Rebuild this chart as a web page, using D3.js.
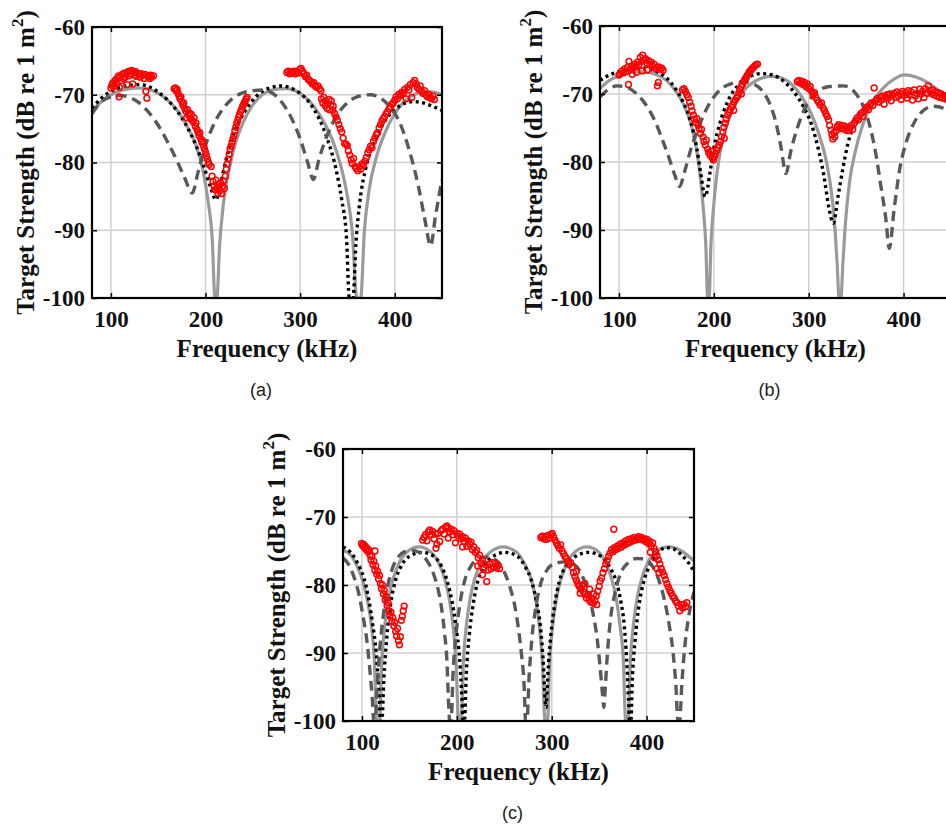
<!DOCTYPE html>
<html>
<head>
<meta charset="utf-8">
<script src="https://cdn.jsdelivr.net/npm/d3@7"></script>
<style>
    body { margin: 0; background: #fff; }
    .tick text { font-family: "Liberation Serif", "Times New Roman", serif; font-weight: bold; font-size: 23px; fill: #111; }
    .axtitle { font-family: "Liberation Serif", "Times New Roman", serif; font-weight: bold; font-size: 25px; fill: #111; }
    .plab { font-family: "Liberation Sans", Arial, sans-serif; font-size: 18px; fill: #222; }
</style>
</head>
<body>
<svg id="fig" width="946" height="826"></svg>
<script>
// axes
const freqDomain = [80, 450]
const tsDomain = [-100, -60]
const freqTicks = [100, 200, 300, 400]
const tsTicks = [-100, -90, -80, -70, -60]
const panelLabels = ["(a)", "(b)", "(c)"]

// ---- panel (a) ----
const grayA = [[80,-72.5],[90,-71],[100,-70],[110,-69.4],[120,-69.1],[130,-69],[140,-69.2],[150,-69.8],[160,-70.8],[170,-72.3],[180,-74.5],[190,-77.5],[197,-81],[203,-86],[207,-91],[210,-100],[212,-100],[215,-92],[219,-86],[225,-81],[232,-77],[240,-74],[250,-71.5],[260,-70],[270,-69.3],[285,-69.1],[295,-69.4],[305,-70.3],[315,-71.8],[325,-74],[335,-77],[343,-80.5],[350,-85],[355,-90],[360,-100],[364,-100],[368,-90],[373,-84],[380,-79.5],[390,-75.5],[400,-72.8],[410,-71],[420,-70],[430,-69.6],[440,-69.6],[450,-70]]
const dotA = [[80,-72],[90,-70.5],[100,-69.5],[110,-68.9],[120,-68.6],[130,-68.5],[140,-68.8],[150,-69.6],[160,-70.8],[170,-72.4],[180,-74.6],[190,-77.5],[198,-80.5],[205,-83.5],[211,-85.5],[216,-83],[222,-79.5],[230,-75.8],[240,-72.8],[250,-70.8],[260,-69.5],[270,-68.9],[280,-68.7],[290,-69],[300,-69.8],[310,-71.2],[320,-73.5],[330,-77],[338,-81],[344,-85.5],[349,-91],[352,-100],[356,-100],[359,-92],[363,-86],[370,-80.5],[380,-76.5],[390,-73.8],[400,-72.2],[410,-71.3],[420,-71],[430,-71.2],[440,-71.7],[450,-72.3]]
const dashA = [[80,-72.8],[90,-71],[100,-70.3],[110,-70.1],[120,-70.4],[130,-71.2],[140,-72.6],[150,-74.5],[160,-77],[170,-79.8],[178,-82.3],[186,-84.5],[192,-81.5],[200,-77.5],[210,-74],[220,-71.8],[230,-70.4],[240,-69.7],[250,-69.4],[261,-69.3],[270,-69.7],[280,-71],[290,-73.2],[300,-76.5],[308,-80],[314,-82.5],[320,-79.5],[330,-75.5],[340,-72.8],[350,-71.2],[360,-70.3],[374,-70],[385,-70.5],[395,-71.8],[405,-74],[415,-78],[425,-83.5],[432,-88.5],[438,-92.3],[443,-88],[450,-82.5]]
const redA = [
  [100,-69],[101,-68.6],[102,-68.3],[103,-68.8],[104,-68],[105,-67.8],[106,-68.4],[107,-67.5],[108,-67.2],[108.6,-70.3],[109,-68.9],[110,-67.4],[111,-67.9],[112,-67],[113,-67.6],[114,-66.8],[115,-67.4],[116,-66.9],[117,-68.5],[118,-66.6],[119,-67.2],[120,-66.5],[121,-66.9],[122,-66.4],[123,-68.4],[124,-66.7],[125,-67.1],[126,-66.6],[127,-67.3],[128,-66.8],[130,-67],[131,-67.4],[132,-66.9],[134,-67.1],[135,-67.6],[136,-67],[137,-69.5],[138,-70.5],[139,-67.3],[140,-67.2],[141,-67.6],[142,-67.1],[143,-67.4],[145,-67.2],
  [167,-69.1],[168,-69],[169,-69.4],[170,-69.2],[171,-69.8],[172,-70.2],[173,-70.6],[174,-70.3],[175,-71],[176,-71.5],[177,-71.2],[178,-72],[179,-72.4],[180,-73.4],[181,-72.2],[182,-73],[183,-72.7],[184,-73.5],[185,-72.9],[186,-73.8],[187,-74],[188,-73.4],[189,-74.6],[190,-74.2],[191,-75.1],[192,-75.5],[193,-76],[194,-75.6],[195,-76.5],[196,-77],[197,-76.8],[198,-77.6],[199,-78],[200,-78.5],[201,-79],[202,-79.5],[203,-80],[204,-80.3],[206,-80.6],[207,-82],[208,-82.8],[209,-83.5],[210,-84],[211,-82.6],[212,-83.8],[213,-84.5],[214,-83.2],[215,-84.2],[216,-83],[217,-84.6],[218,-83.5],[219,-82.7],[220,-83.8],[221,-82],[222,-81],[223,-80.2],[224,-79.5],[225,-78.8],[226,-78],[227,-77.6],[228,-77],[229,-76.5],[230,-76],[231,-75.3],[232,-74.8],[233,-74.2],[234,-73.8],[235,-73.3],[236,-72.9],[237,-72.5],[238,-72.2],[239,-71.8],[240,-71.5],[241,-71.2],[242,-70.9],[243,-70.6],[244,-70.4],
  [286,-66.7],[287.5,-66.5],[289,-66.9],[290.5,-66.6],[292,-66.8],[293.5,-66.5],[295,-66.9],[296.5,-66.6],[298,-66.8],[299.5,-66.3],[301,-66.1],[302.5,-66.5],[304,-66.9],[305.5,-67.3],[307,-67.1],[308.5,-67.7],[310,-67.9],[311.5,-68.1],[313,-68.4],[314.5,-68.2],[316,-68.7],[317.5,-68.9],[319,-68.7],[320.5,-69.1],[322,-69.4],[322.5,-70.6],[324,-71.2],[325,-70.4],[326.5,-71.6],[327,-70.9],[328.5,-72],[329,-71.3],[330.5,-70.7],[331,-72.2],[332.5,-71.5],[333,-70.9],[334.5,-72.3],[335,-71.7],[336.5,-72.8],[338,-73.3],[339.5,-73.8],[341,-74.4],[342.5,-75],[344,-75.5],[345.5,-76.4],[347,-77.2],[348.5,-77.3],[350,-77.5],[351,-78.3],[352.5,-78.9],[354,-79.6],[355,-80.1],[356.5,-79.4],[358,-80.6],[359.5,-80.9],[361,-81.2],[362.5,-80.6],[364,-81],[365.5,-80.2],[367,-80.4],[368.5,-79.8],[370,-79.3],[371.5,-78.6],[373,-78.1],[374.5,-77.6],[376,-77.8],[377.5,-76.9],[379,-76.4],[380.5,-75.9],[382,-75.6],[383.5,-74.9],[385,-74.4],[386.5,-73.9],[388,-73.5],[389.5,-73.2],[391,-72.8],[392.5,-72.5],[394,-72.1],[395.5,-71.8],[397,-71.4],[398.5,-71.2],[400,-70.8],[401.5,-70.3],[403,-70.6],[404.5,-69.9],[406,-70.1],[407.5,-69.6],[409,-69.8],[410.5,-69.2],[412,-70.6],[413.5,-68.9],[415,-69.3],[416.5,-68.5],[418,-70.4],[419.5,-68.2],[421,-67.9],[422.5,-68.4],[424,-68.9],[425.5,-69.2],[427,-68.7],[428.5,-69.5],[430,-69.8],[431.5,-69.4],[433,-70],[434.5,-70.3],[436,-69.9],[437.5,-70.4],[439,-70.6],[440.5,-70.2],[442,-70.7]
]

// ---- panel (b) ----
const grayB = [[80,-69.2],[90,-68],[100,-67.3],[110,-66.9],[126,-66.7],[140,-67.2],[150,-68],[160,-69.6],[168,-71.5],[175,-74],[181,-77.5],[186,-82.5],[189,-87],[191.5,-92],[193.5,-100],[195,-100],[197,-92],[199.5,-87],[203,-82],[208,-77.5],[215,-74],[225,-70.8],[235,-69],[248,-67.8],[260,-67.4],[272,-67.7],[283,-68.7],[293,-70.5],[303,-73],[311,-76],[318,-79.5],[323,-83.5],[327,-88.5],[330,-95],[332,-100],[334,-100],[336,-95],[339,-88.5],[343,-83],[349,-78.5],[357,-74.5],[367,-71.3],[378,-69.2],[390,-67.8],[401,-67.2],[413,-67.5],[425,-68.3],[437,-69.5],[450,-71]]
const dotB = [[80,-68],[90,-67.2],[100,-66.7],[112,-66.3],[125,-66.2],[138,-66.6],[150,-67.6],[160,-69.3],[168,-71.3],[175,-73.8],[182,-78],[186,-81.5],[191,-85.1],[196,-81.5],[200,-78],[207,-74],[215,-71],[225,-68.8],[237,-67.5],[250,-67],[262,-67.2],[275,-68.3],[285,-69.8],[295,-72],[303,-74.5],[310,-78],[316,-82],[321,-86.5],[326,-89],[331,-85],[336,-81],[341,-77.5],[350,-74],[360,-72],[372,-70.7],[385,-70.1],[400,-69.9],[415,-69.8],[430,-69.9],[450,-70.3]]
const dashB = [[80,-70.4],[88,-69.4],[98,-68.8],[108,-69],[118,-69.9],[128,-71.5],[138,-74],[146,-76.8],[153,-79.5],[159,-82],[164,-83.6],[169,-81.5],[176,-78],[185,-74.5],[195,-71.5],[205,-69.6],[218,-68.5],[232,-68.2],[243,-68.6],[252,-69.7],[260,-71.8],[266,-74.5],[271,-78],[276,-81.7],[281,-78.5],[288,-75],[297,-71.8],[308,-69.8],[322,-68.9],[337,-68.8],[350,-70],[358,-72],[365,-75],[371,-79],[376,-83.5],[381,-88],[385,-92.7],[390,-87],[396,-81],[403,-77],[412,-74],[422,-72.3],[432,-71.8],[442,-72.1],[450,-72.9]]
const redB = [
  [100,-67.2],[101.5,-67],[103,-66.6],[104.5,-66.9],[106,-66.3],[107.5,-66.7],[109,-66.1],[110,-68.6],[110.5,-65.2],[112,-66.4],[113.5,-65.9],[114,-67.1],[115,-66.2],[116.5,-65.6],[118,-65.9],[118.5,-66.8],[119.5,-65.3],[121,-65.7],[122.5,-64.6],[124,-65.2],[124.5,-66.6],[125,-64.3],[126.5,-65],[128,-64.8],[129.5,-65.5],[130,-66.5],[131,-65.1],[132.5,-65.7],[134,-65.3],[135.5,-65.9],[137,-65.6],[138.5,-66.3],[140,-66.1],[140.5,-68.8],[141.5,-68.3],[142,-66],[143.5,-66.4],[145,-66.2],[146.5,-66.5],
  [167,-69.4],[168.5,-69.2],[170,-69.6],[171.5,-70.1],[173,-70.5],[174.5,-71.2],[176,-71.8],[177,-72.5],[178.5,-73.1],[179.5,-73.7],[181,-74.2],[182,-73.6],[183.5,-74.6],[184.5,-75.1],[186,-75.8],[187,-75.2],[188.5,-76.3],[189.5,-77],[191,-77.5],[192,-76.8],[193.5,-78.1],[194.5,-78.6],[196,-79],[197,-78.4],[198.5,-79.4],[199.5,-79.7],
  [200.5,-79.2],[201.5,-78.8],[203,-78.3],[204,-77.9],[205.5,-77.5],[207,-77],[208,-76.3],[209.5,-75.6],[210.5,-74.9],[211,-76.5],[212,-74.3],[213,-73.7],[214.5,-73.1],[216,-72.7],[217,-72.3],[218.5,-71.9],[220,-71.6],[221,-71.2],[221,-72.4],[222.5,-70.9],[224,-70.6],[225,-70.3],[226.5,-69.8],[227.5,-69.3],[229,-68.9],[229,-70],[230,-68.6],[231.5,-68.2],[232.5,-67.9],[234,-67.6],[235,-67.3],[236.5,-67],[237.5,-66.7],[239,-66.5],[240,-66.3],[241.5,-66.1],[243,-65.9],[244.5,-65.7],[246,-65.6],
  [288,-68.2],[289.5,-68],[291,-68.4],[292.5,-68.1],[294,-68.6],[295.5,-68.3],[297,-68.9],[298.5,-68.5],[300,-69.2],[301.5,-68.9],[303,-69.6],[304.5,-70.1],[306,-69.8],[307.5,-70.5],[309,-70.9],[310.5,-71.2],[312,-71.6],[313.5,-71.3],[315,-72],[316.5,-72.4],[318,-72.9],[319.5,-73.3],[321,-73.8],[322,-74.6],[323.5,-75.3],[324.5,-76],[325.5,-76.6],[326.5,-75.7],[327.5,-76.3],[329,-75.4],[330,-74.8],[331.5,-74.5],[333,-75],[334.5,-74.6],[336,-75.1],[337.5,-74.7],[339,-75.3],[340.5,-74.9],[342,-75.4],[343.5,-75],[345,-74.6],[346.5,-75.2],[348,-74.3],[349.5,-73.9],[351,-73.5],[352.5,-73.8],[354,-73.1],[355.5,-72.8],[357,-73.3],[358.5,-72.5],[360,-72.2],[361.5,-71.9],[363,-72.3],[364.5,-71.6],[366,-71.3],[367.5,-71.7],[369,-69.1],[370.5,-71],[372,-70.7],[373.5,-71.2],[375,-70.5],[376.5,-70.9],[378,-70.3],[379.5,-71.5],[381,-70.4],[382.5,-70.1],[384,-70.6],[385.5,-70],[387,-71],[388.5,-70.2],[390,-69.9],[391.5,-70.5],[393,-69.7],[394.5,-70.3],[396,-69.9],[397.5,-70.8],[399,-69.6],[400.5,-70.2],[402,-69.8],[403.5,-70.6],[405,-69.5],[406.5,-70.1],[408,-69.7],[409.5,-70.9],[411,-69.4],[412.5,-70.3],[414,-69.9],[415.5,-70.7],[417,-69.3],[418.5,-70],[420,-69.6],[421.5,-70.5],[423,-69.2],[424.5,-69.9],[426,-68.8],[427.5,-69.5],[429,-69.9],[430.5,-69.4],[432,-70.1],[433.5,-69.7],[435,-70.3],[436.5,-69.8],[438,-70.5],[439.5,-70],[441,-70.6],[442.5,-70.2],[444,-70.7],[445.5,-70.4],[447,-70.9],[448.5,-70.5]
]

// ---- panel (c) ----
const grayC = [[80,-74.9],[88,-75.6],[95,-77.3],[101,-79.5],[106,-82.5],[110,-86],[113,-91],[115.5,-100],[118.5,-100],[121,-91],[124,-86],[128,-82],[133,-79],[139,-76.8],[147,-75.2],[160,-74.4],[173,-75.2],[181,-76.8],[187,-79],[192,-82],[196,-86],[199,-91],[202,-100],[204.5,-100],[207,-91],[210,-86],[214,-82],[219,-79],[226,-76.8],[235,-75.2],[249,-74.4],[263,-75.2],[271,-76.8],[278,-79],[283,-82],[287,-86],[290,-91],[293,-100],[295.5,-100],[298,-91],[301,-86],[305,-82],[310,-79],[316,-76.8],[324,-75.2],[337,-74.4],[350,-75.2],[357,-76.8],[363,-79],[368,-82],[372,-86],[375.5,-91],[378,-100],[380.5,-100],[383,-91],[386,-86],[390,-82],[395,-79],[401,-76.8],[409,-75.2],[424,-74.4],[437,-75],[450,-76.5]]
const dotC = [[80,-74.4],[88,-75.2],[95,-76.7],[102,-79],[107,-82],[111,-85.5],[115,-90],[118,-96],[119.5,-100],[121,-100],[123,-94],[126,-88],[130,-83],[135,-79.5],[141,-77.3],[150,-75.8],[163,-75.2],[176,-75.8],[184,-77.3],[190,-79.5],[195,-82.5],[199,-86],[203,-91],[205.5,-97],[206.5,-100],[208,-100],[210,-93],[213,-87.5],[217,-83],[222,-79.5],[229,-77.2],[238,-75.8],[251,-75.2],[264,-75.8],[272,-77.3],[279,-79.5],[284,-82.5],[288,-86],[291,-91],[294,-98],[296,-93],[299,-87.5],[303,-83],[308,-79.5],[315,-77.2],[325,-75.8],[339,-75.2],[352,-75.8],[361,-77.3],[368,-79.5],[373,-82.5],[376.5,-86],[379,-91],[381,-97],[382,-100],[383.5,-100],[385,-94],[388,-88],[392,-83],[397,-79.5],[404,-77],[412,-75.3],[420,-74.5],[430,-74.8],[437,-75.6],[443,-76.5],[450,-78]]
const dashC = [[80,-76],[86,-77],[92,-79],[97,-81.5],[101,-84.5],[105,-88],[108,-92],[111,-97],[112.5,-100],[114,-100],[116,-95],[119,-89],[122,-85],[126,-81],[131,-78],[138,-75.9],[145,-75.1],[152,-74.9],[160,-75.2],[168,-76.3],[175,-78.2],[180,-80.5],[184,-83.5],[187,-87],[189.5,-91],[191.5,-98],[192.5,-100],[194,-100],[196,-93],[199,-87.5],[203,-83],[208,-79.5],[215,-77.2],[223,-76.1],[232,-75.9],[241,-76.3],[249,-77.8],[256,-80.3],[261,-83],[265,-86.5],[268,-90],[271,-95],[272.5,-100],[274,-100],[276,-94],[279,-88],[283,-83.5],[288,-80],[295,-77.8],[304,-76.8],[314,-76.6],[324,-77],[332,-78.6],[339,-81.3],[344,-84.5],[348,-88],[351,-92],[353.5,-96],[355,-98],[356.5,-95],[359,-89.5],[362,-85],[367,-81],[373,-78.2],[381,-76.7],[390,-76.1],[398,-76.2],[406,-77.2],[413,-79.3],[419,-82.3],[424,-86],[428,-90],[431,-95],[433,-100],[435,-100],[437,-95],[440,-89.5],[444,-85],[450,-81]]
const redC = [
  [99.5,-73.9],[100.5,-74.2],[101.5,-74],[102.5,-74.5],[103.5,-74.3],[104.5,-74.8],[105.5,-74.6],[106.5,-75.1],[107.5,-74.9],[108.5,-75.6],[109.5,-76.3],[110.5,-75.8],[111.5,-77],[112.5,-76.5],[113.5,-77.8],[113.7,-75],[114.5,-77.2],[115.5,-78.4],[116.5,-78],[117.5,-79.1],[118.5,-78.6],[119.5,-79.8],[120.5,-80.5],[121.5,-80],[122.5,-81.3],[123.5,-80.8],[124.5,-82.2],[125.5,-81.7],[126.5,-83],[127.5,-82.6],[128.5,-83.8],[129.5,-84.5],[130.5,-84],[131.5,-85.3],[132.5,-84.8],[133.5,-86],[134.5,-85.5],[135.5,-86.8],[136.5,-87.5],[137.5,-86.4],[138.5,-88.2],[139.5,-88.8],[140.5,-87.6],[141.5,-85.2],[142.5,-84.6],[143.5,-83.8],[144.5,-83.1],
  [164,-73.4],[165.5,-73],[167,-72.6],[168.5,-73.5],[170,-72.2],[171.5,-71.9],[173,-72.6],[174.5,-72.1],[176,-73.2],[177.5,-72.5],[178,-74.6],[179,-74],[180.5,-72.4],[182,-73.6],[183.5,-72],[185,-71.8],[186.5,-72.5],[188,-71.5],[189.5,-71.3],[191,-71.6],[191,-73.1],[192.5,-72.2],[194,-71.8],[195.5,-72.6],[197,-72],[198.5,-73.8],[200,-72.4],[201.5,-72.8],[203,-72.5],[204.5,-73.2],[206,-72.9],[206,-74.4],[207.5,-73.6],[209,-73.1],[210.5,-74.3],[212,-73.5],[213.5,-74],[215,-73.7],[216.5,-74.8],[218,-74.4],[219.5,-75.2],[221,-74.9],[222,-77.2],[222.5,-76],[224,-75.6],[225.5,-76.8],[227,-76.3],[227,-78.5],[228.5,-77.5],[230,-77],[231.5,-79.5],[233,-77.8],[234.5,-76.9],[236,-77.6],[237.5,-76.7],[239,-77.3],[240.5,-76.8],[242,-77.5],[243.5,-77.1],[245,-77.6],
  [288.5,-73],[290,-72.8],[291.5,-73.2],[293,-72.9],[294.5,-73.3],[296,-72.7],[297.5,-73.1],[299,-72.6],[300.5,-72.4],[302,-72.9],[303.5,-73.4],[305,-73.8],[306.5,-74.2],[308,-74.6],[309.5,-74.1],[311,-75],[312.5,-75.4],[314,-75.8],[315.5,-76.1],[317,-76.5],[318.5,-77],[320,-76.7],[321.5,-77.4],[323,-78.2],[324.5,-78.8],[326,-79.3],[326,-78],[327.5,-79.8],[329,-80.2],[330,-81.2],[330.5,-80.6],[332,-80.1],[333.5,-81],[335,-81.4],[335,-79.8],[336.5,-81.9],[338,-81.5],[339.5,-82.2],[340,-80.6],[341,-82.5],[342.5,-82],[344,-82.7],[344.5,-81.3],[345.5,-82.3],[347,-81.6],[347.5,-82.9],[348.5,-80.9],[350,-80.2],[351,-79.4],[352.5,-79],[354,-78.2],[355.5,-77.6],[357,-76.9],[358.5,-76.4],[360,-75.8],[361.5,-75.3],[363,-74.8],[364.5,-75.1],[365.5,-71.8],[366,-74.5],[367.5,-74.8],[369,-74.3],[370.5,-74.6],[372,-74],[373.5,-74.4],[375,-73.8],[376.5,-74.1],[378,-73.5],[379.5,-73.9],[381,-73.3],[382.5,-73.7],[384,-73.2],[385.5,-73.5],[387,-73],[388.5,-73.4],[390,-73.1],[391.5,-72.9],[393,-73.3],[394.5,-73],[396,-73.4],[397.5,-73.2],[399,-73.6],[400.5,-73.3],[402,-73.9],[403.5,-73.6],[404,-75.2],[405,-74.3],[406.5,-73.8],[408,-74.6],[408.5,-76],[409.5,-75.1],[411,-75.7],[411,-77.6],[412.5,-76.3],[413,-78.2],[414,-76.9],[415.5,-77.6],[417,-78.1],[418.5,-78.6],[420,-79.2],[421.5,-79.8],[423,-80.3],[424.5,-80.8],[426,-81.2],[427.5,-81.6],[429,-81.9],[430.5,-82.3],[432,-82.6],[433.5,-83.1],[435,-83.8],[436.5,-82.9],[438,-83.4],[439.5,-82.8],[441,-83.2],[442.5,-82.6]
]

let svg = d3.select("#fig")

let panels = [
    { left: 92, top: 27, w: 350, h: 271, gray: grayA, dot: dotA, dash: dashA, red: redA },
    { left: 600, top: 26, w: 351, h: 272, gray: grayB, dot: dotB, dash: dashB, red: redB },
    { left: 343, top: 449, w: 351, h: 272, gray: grayC, dot: dotC, dash: dashC, red: redC }
]

panels.forEach((p, i) => drawPanel(p, i))

function drawPanel(p, i) {
    let g = svg.append("g").attr("transform", `translate(${p.left},${p.top})`)
    let x = d3.scaleLinear().domain(freqDomain).range([0, p.w])
    let y = d3.scaleLinear().domain(tsDomain).range([p.h, 0])

    // grid
    g.append("g").selectAll("line").data(freqTicks).join("line")
        .attr("x1", d => x(d)).attr("x2", d => x(d))
        .attr("y1", 0).attr("y2", p.h)
        .attr("stroke", "#d0d0d0").attr("stroke-width", 1.5)
    g.append("g").selectAll("line").data(tsTicks.slice(1, -1)).join("line")
        .attr("x1", 0).attr("x2", p.w)
        .attr("y1", d => y(d)).attr("y2", d => y(d))
        .attr("stroke", "#d0d0d0").attr("stroke-width", 1.5)

    let clipId = "clip" + i
    g.append("clipPath").attr("id", clipId)
        .append("rect").attr("width", p.w).attr("height", p.h)

    let plot = g.append("g").attr("clip-path", `url(#${clipId})`)
    let line = d3.line()
        .x(d => x(d[0]))
        .y(d => y(d[1]))
        .curve(d3.curveMonotoneX)

    plot.append("path").datum(p.gray).attr("d", line)
        .attr("fill", "none").attr("stroke", "#9a9a9a").attr("stroke-width", 3.2)
    plot.append("path").datum(p.dot).attr("d", line)
        .attr("fill", "none").attr("stroke", "#000").attr("stroke-width", 3.4)
        .attr("stroke-dasharray", "3,3.5")
    plot.append("path").datum(p.dash).attr("d", line)
        .attr("fill", "none").attr("stroke", "#595959").attr("stroke-width", 3.4)
        .attr("stroke-dasharray", "10,6")

    plot.append("g").selectAll("circle").data(p.red).join("circle")
        .attr("cx", d => x(d[0])).attr("cy", d => y(d[1]))
        .attr("r", 2.9)
        .attr("fill", "none").attr("stroke", "#ff0000").attr("stroke-width", 1.5)

    // axes, ticks pointing inward on all four sides
    let fmt = d => String(d)
    g.append("g").attr("transform", `translate(0,${p.h})`)
        .call(d3.axisBottom(x).tickValues(freqTicks).tickSize(-5).tickPadding(13).tickFormat(fmt))
    g.append("g")
        .call(d3.axisLeft(y).tickValues(tsTicks).tickSize(-5).tickPadding(7).tickFormat(fmt))
    g.append("g")
        .call(d3.axisTop(x).tickValues(freqTicks).tickSize(-5).tickFormat(""))
    g.append("g").attr("transform", `translate(${p.w},0)`)
        .call(d3.axisRight(y).tickValues(tsTicks).tickSize(-5).tickFormat(""))
    g.selectAll(".domain").remove()
    g.selectAll(".tick line").attr("stroke", "#000").attr("stroke-width", 1.5)

    g.append("rect").attr("width", p.w).attr("height", p.h)
        .attr("fill", "none").attr("stroke", "#000").attr("stroke-width", 2.2)

    // titles
    g.append("text").attr("class", "axtitle")
        .attr("x", p.w / 2).attr("y", p.h + 59)
        .attr("text-anchor", "middle")
        .text("Frequency (kHz)")

    let yl = g.append("text").attr("class", "axtitle")
        .attr("transform", `translate(-58,${p.h / 2}) rotate(-90)`)
        .attr("text-anchor", "middle")
    yl.append("tspan").text("Target Strength (dB re 1 m")
    yl.append("tspan").attr("dy", -11).attr("font-size", 17).text("2")
    yl.append("tspan").attr("dy", 11).text(")")

    g.append("text").attr("class", "plab")
        .attr("x", p.w / 2 - 6).attr("y", p.h + 98)
        .attr("text-anchor", "middle")
        .text(panelLabels[i])
}
</script>
</body>
</html>
